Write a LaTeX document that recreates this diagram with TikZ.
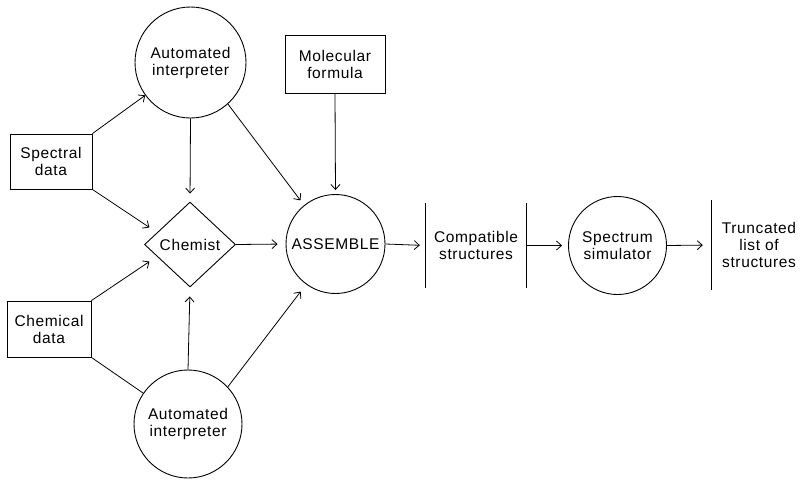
\documentclass[tikz,border=0pt]{standalone}
\usepackage{fontspec}
\setmainfont{Liberation Sans}[LetterSpace=4]
\usetikzlibrary{shapes.geometric,arrows.meta}
\begin{document}
\begin{tikzpicture}[x=1pt,y=-1pt,
  font=\fontsize{15.5}{17}\selectfont,
  every node/.style={inner sep=0pt, align=center},
  box/.style={draw, rectangle, line width=0.9pt},
  circ/.style={draw, circle, line width=0.9pt},
  dia/.style={draw, diamond, line width=0.9pt},
  arr/.style={-{Straight Barb[length=5pt,width=9pt]}, line width=0.8pt},
  plain/.style={line width=0.8pt},
  bar/.style={line width=0.9pt}]
\useasboundingbox (0,0) rectangle (805,479);
% nodes
\node[box, minimum width=82pt, minimum height=55pt] (spec) at (51,161.5) {Spectral\\data};
\node[box, minimum width=84pt, minimum height=56pt] (chem) at (49,329) {Chemical\\data};
\node[circ, minimum size=111pt] (ai1) at (190.5,62.5) {Automated\\interpreter};
\node[box, minimum width=100pt, minimum height=58pt] (mol) at (335,64) {Molecular\\formula};
\node[dia, minimum width=91pt, minimum height=85pt] (chemist) at (190,244.5) {Chemist};
\node[circ, minimum size=99pt, font=\fontsize{15.5}{17}\selectfont] (asm) at (335.5,244) {ASSEMBLE};
\node[circ, minimum size=108pt] (ai2) at (188,424) {Automated\\interpreter};
\node[minimum width=100pt, minimum height=85pt] (compat) at (476,245.5) {Compatible\\structures};
\node[circ, minimum size=98pt] (sim) at (617.5,245.5) {Spectrum\\simulator};
\node[minimum width=94pt, minimum height=90pt] (trunc) at (759,245) {Truncated\\list of\\structures};
% bars
\draw[bar] (compat.north west) -- (compat.south west);
\draw[bar] (compat.north east) -- (compat.south east);
\draw[bar] (trunc.north west) -- (trunc.south west);
% connectors
\draw[arr] (spec.north east) -- (ai1);
\draw[arr, shorten >=9pt] (spec.south east) -- (chemist.160);
\draw[arr, shorten >=9pt] (chem.north east) -- (chemist.200);
\draw[plain] (chem.south east) -- (ai2);
\draw[arr, shorten >=8pt] (ai1.south) -- (chemist.north);
\draw[arr, shorten >=6pt] (ai1.-48) -- (asm.129);
\draw[arr, shorten >=4pt] (mol.south) -- (asm.north);
\draw[arr, shorten >=9pt] (ai2.north) -- (chemist.south);
\draw[arr, shorten >=9pt] (ai2.43) -- (asm.234);
\draw[arr, shorten >=8pt] (chemist.east) -- (asm.west);
\draw[arr, shorten >=6pt] (asm.east) -- (compat.west);
\draw[arr, shorten >=6pt] (compat.east) -- (sim.west);
\draw[arr, shorten >=9pt] (sim.east) -- (trunc.west);
\end{tikzpicture}
\end{document}
